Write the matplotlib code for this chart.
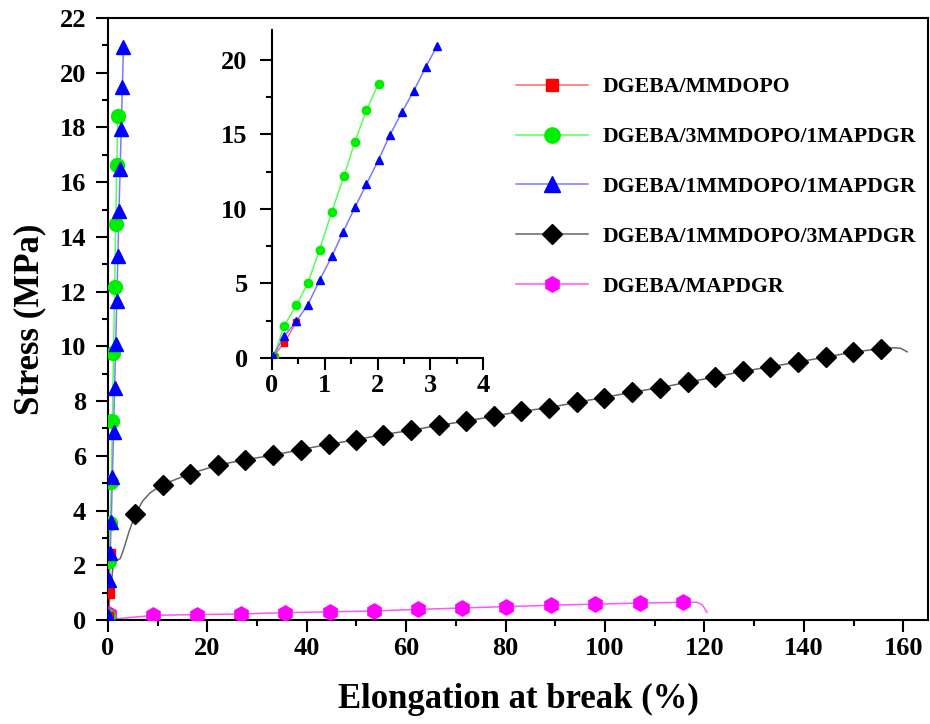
import matplotlib
matplotlib.use("Agg")
import matplotlib.pyplot as plt
from matplotlib.lines import Line2D
from matplotlib.ticker import MultipleLocator

plt.rcParams["font.family"] = ["Liberation Serif", "DejaVu Serif"]
plt.rcParams["font.weight"] = "bold"

# ---- data ----
labels = ["DGEBA/MMDOPO", "DGEBA/3MMDOPO/1MAPDGR", "DGEBA/1MMDOPO/1MAPDGR",
          "DGEBA/1MMDOPO/3MAPDGR", "DGEBA/MAPDGR"]

red_x = [0.02, 0.23, 0.46]
red_y = [0.10, 1.00, 2.41]

green_x = [0.04, 0.23, 0.46, 0.68, 0.90, 1.13, 1.36, 1.57, 1.79, 2.02]
green_y = [0.16, 2.17, 3.53, 5.03, 7.26, 9.77, 12.18, 14.48, 16.63, 18.41]

blue_x = [0.02, 0.23, 0.46, 0.68, 0.90, 1.14, 1.35, 1.57, 1.79, 2.02,
          2.23, 2.46, 2.69, 2.91, 3.13]
blue_y = [0.16, 1.45, 2.46, 3.58, 5.21, 6.86, 8.47, 10.10, 11.66, 13.30,
          14.93, 16.47, 17.94, 19.49, 20.94]

black_x = [5.5, 11.0, 16.6, 22.1, 27.6, 33.2, 38.8, 44.4, 49.9, 55.4,
           61.0, 66.6, 72.1, 77.7, 83.2, 88.8, 94.3, 99.8, 105.5, 111.0,
           116.6, 122.1, 127.7, 133.2, 138.8, 144.4, 149.9, 155.5]
black_y = [3.86, 4.95, 5.35, 5.66, 5.86, 6.02, 6.23, 6.42, 6.59, 6.78,
           6.93, 7.12, 7.27, 7.45, 7.63, 7.76, 7.96, 8.13, 8.33, 8.49,
           8.69, 8.88, 9.09, 9.25, 9.43, 9.61, 9.79, 9.92]
# curve shape before the first and after the last marker
black_head_x = [0.0, 0.5, 1.0, 1.5, 2.5, 3.2, 4.2]
black_head_y = [0.0, 1.0, 1.9, 2.15, 2.25, 2.6, 3.2]
black_mid_x = [7.0, 8.5]
black_mid_y = [4.35, 4.65]
black_tail_x = [158.0, 159.5, 160.8]
black_tail_y = [9.95, 9.93, 9.80]

mag_x = [0.3, 9.1, 18.0, 26.8, 35.7, 44.6, 53.5, 62.4, 71.3, 80.1,
         89.2, 98.0, 107.0, 115.7]
mag_y = [0.22, 0.17, 0.20, 0.22, 0.27, 0.30, 0.33, 0.39, 0.44, 0.49,
         0.54, 0.58, 0.62, 0.65]
mag_head_x = [0.0, 2.0]
mag_head_y = [0.30, 0.05]
mag_tail_x = [118.5, 119.6, 120.5]
mag_tail_y = [0.65, 0.55, 0.28]

line_cols = ["#ff6a6a", "#55ff55", "#7a7aff", "#666666", "#ff55ff"]
mark_cols = ["#ff0000", "#00ee00", "#0000ff", "#000000", "#ff00ff"]
markers = ["s", "o", "^", "D", "h"]

fig = plt.figure(figsize=(9.3, 7.24), dpi=100, facecolor="white")
ax = fig.add_axes([0.116, 0.1436, 0.882, 0.8315])

def draw(a, lx, ly, mx, my, i, ms):
    a.plot(lx, ly, color=line_cols[i], lw=1.1, zorder=2)
    a.plot(mx, my, ls="none", marker=markers[i], ms=ms,
           color=mark_cols[i], mec=mark_cols[i], zorder=3)

draw(ax, mag_head_x + mag_x[1:] + mag_tail_x, mag_head_y + mag_y[1:] + mag_tail_y,
     mag_x, mag_y, 4, 11)
draw(ax, black_head_x + black_x[:1] + black_mid_x + black_x[1:] + black_tail_x,
     black_head_y + black_y[:1] + black_mid_y + black_y[1:] + black_tail_y,
     black_x, black_y, 3, 10)
draw(ax, green_x, green_y, green_x, green_y, 1, 10)
draw(ax, red_x, red_y, red_x, red_y, 0, 7)
draw(ax, blue_x, blue_y, blue_x, blue_y, 2, 10)

ax.set_xlim(0, 165)
ax.set_ylim(0, 22)
ax.xaxis.set_major_locator(MultipleLocator(20))
ax.xaxis.set_minor_locator(MultipleLocator(10))
ax.yaxis.set_major_locator(MultipleLocator(2))
ax.yaxis.set_minor_locator(MultipleLocator(1))
ax.tick_params(which="major", direction="out", length=8.5, width=1.5,
               labelsize=19, pad=4)
ax.tick_params(axis="y", which="major", pad=7)
ax.tick_params(which="minor", direction="out", length=4, width=1.5)
for s in ax.spines.values():
    s.set_linewidth(1.5)
ax.set_xlabel("Elongation at break (%)", fontsize=25, fontweight="bold", labelpad=16)
ax.set_ylabel("Stress (MPa)", fontsize=25, fontweight="bold", labelpad=10)

handles = [Line2D([], [], color=line_cols[i], lw=1.1, marker=markers[i],
                  ms=[9, 11, 11, 10, 11][i], mfc=mark_cols[i], mec=mark_cols[i])
           for i in range(5)]
ax.legend(handles, labels, loc="upper left", bbox_to_anchor=(0.498, 0.902),
          frameon=False, handlelength=3.3, handletextpad=0.65,
          labelspacing=1.36, borderpad=0, borderaxespad=0,
          prop={"weight": "bold", "size": 15.7})

# ---- inset ----
ins = fig.add_axes([0.2925, 0.5055, 0.2269, 0.453])
draw(ins, green_x, green_y, green_x, green_y, 1, 6)
draw(ins, red_x, red_y, red_x, red_y, 0, 5)
draw(ins, blue_x, blue_y, blue_x, blue_y, 2, 6)
ins.set_xlim(0, 4)
ins.set_ylim(0, 22)
ins.xaxis.set_major_locator(MultipleLocator(1))
ins.xaxis.set_minor_locator(MultipleLocator(0.5))
ins.yaxis.set_major_locator(MultipleLocator(5))
ins.yaxis.set_minor_locator(MultipleLocator(2.5))
ins.spines["top"].set_visible(False)
ins.spines["right"].set_visible(False)
for s in ("left", "bottom"):
    ins.spines[s].set_linewidth(1.5)
ins.tick_params(which="major", direction="out", length=8.5, width=1.5,
                labelsize=19, pad=3)
ins.tick_params(axis="y", which="major", pad=9)
ins.tick_params(which="minor", direction="out", length=4, width=1.5)
ins.patch.set_alpha(0)

fig.savefig("out.png", dpi=100, facecolor="white")
